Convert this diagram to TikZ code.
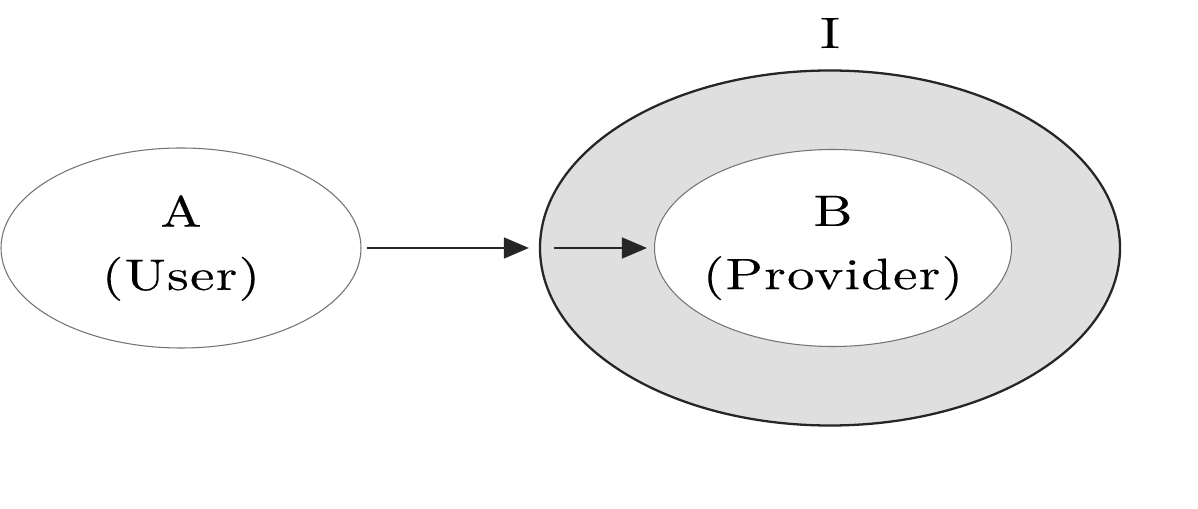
\documentclass[tikz,border=0pt]{standalone}
\usepackage{fontspec}
\setmainfont{lmroman10-regular.otf}[FakeStretch=1.25, LetterSpace=3, FakeBold=0.3]
\usetikzlibrary{shapes.geometric,positioning,arrows.meta}

\begin{document}
\begin{tikzpicture}[
    oval/.style={ellipse, draw=black!55, line width=0.6pt, fill=white, align=center,
      font=\fontsize{25}{36}\selectfont, inner sep=-0.8cm},
    flow/.style={-{Triangle[length=0.5cm, width=0.42cm]}, line width=0.9pt, black!85}
  ]
    \useasboundingbox (0,0) rectangle (23.96,10.16);
    \node[oval, minimum width=7.2cm, minimum height=4cm] (user) at (3.62,5.2) {A\\(User)};
    \node[ellipse, draw=black!85, line width=1.3pt, fill=gray!25,
      minimum width=11.6cm, minimum height=7.1cm] (iface) at (16.6,5.2) {};
    \node[oval, minimum width=7.14cm, minimum height=3.94cm] (prov) at (16.66,5.2) {B\\(Provider)};
    \node[font=\fontsize{25}{30}\selectfont, inner sep=0pt, above=0.42cm of iface] (lbl) {I};
    \draw[flow, shorten <=0.1cm, shorten >=0.2cm] (user.east) -- (iface.west);
    \draw[flow, shorten <=0.3cm, shorten >=0.14cm] (iface.west) -- (prov.west);
  \end{tikzpicture}
\end{document}
